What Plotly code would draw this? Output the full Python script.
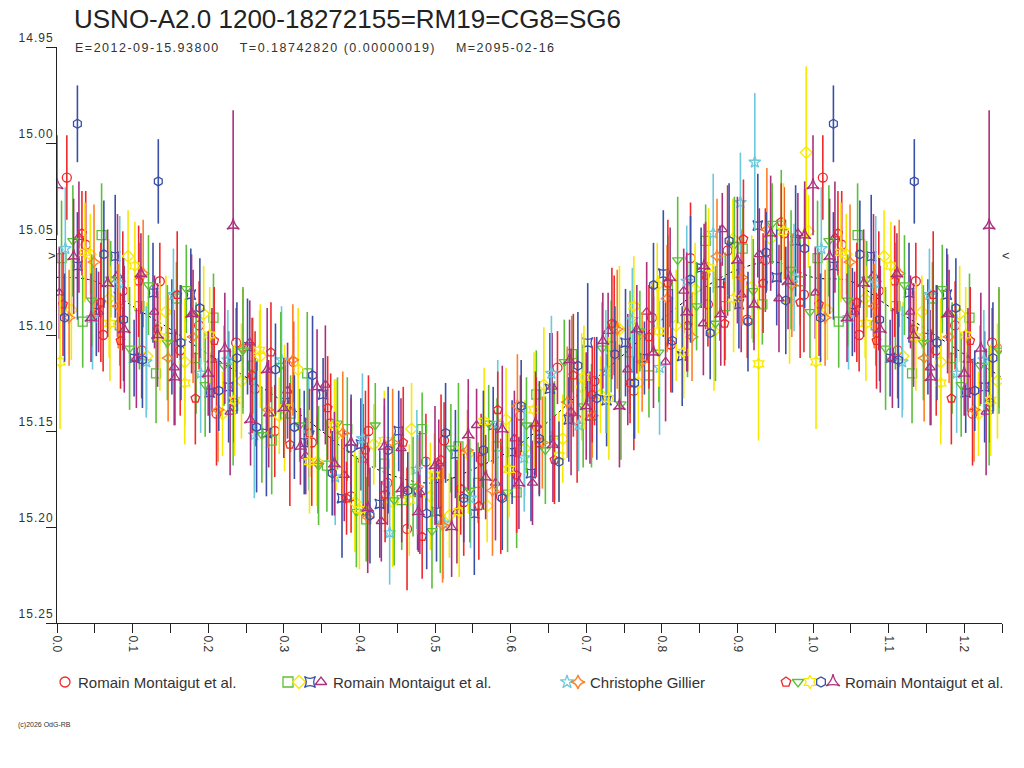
import numpy as np
import plotly.graph_objects as go

W, H = 1024, 768

# --- Romain Montaigut et al. (set 1)
rm1_ph = [0.013, 0.038, 0.061, 0.087, 0.112, 0.136, 0.163, 0.188, 0.211, 0.237, 0.262, 0.288, 0.313, 0.337, 0.362, 0.389, 0.412, 0.437, 0.463, 0.488,
          0.512, 0.538, 0.561, 0.587, 0.613, 0.638, 0.662, 0.688, 0.711, 0.737, 0.763, 0.787, 0.812, 0.838, 0.861, 0.887, 0.913, 0.937, 0.962, 0.988]
rm1_mag = [15.018, 15.053, 15.100, 15.077, 15.108, 15.072, 15.108, 15.095, 15.141, 15.104, 15.128, 15.150, 15.114, 15.156, 15.146, 15.184, 15.150, 15.177, 15.201, 15.166,
           15.155, 15.187, 15.165, 15.184, 15.142, 15.156, 15.117, 15.144, 15.124, 15.095, 15.129, 15.091, 15.105, 15.060, 15.084, 15.056, 15.092, 15.061, 15.047, 15.079]
rm1_err = [0.022, 0.028, 0.019, 0.031, 0.025, 0.020, 0.034, 0.023, 0.027, 0.018, 0.030, 0.024, 0.021, 0.033, 0.026, 0.019, 0.029, 0.022, 0.032, 0.025,
           0.020, 0.028, 0.024, 0.030, 0.021, 0.027, 0.019, 0.033, 0.023, 0.026, 0.031, 0.018, 0.025, 0.029, 0.022, 0.034, 0.020, 0.027, 0.024, 0.030]

# --- Romain Montaigut et al. (set 2, four series)
rm2a_ph = [0.006, 0.034, 0.059, 0.083, 0.109, 0.131, 0.158, 0.184, 0.207, 0.233, 0.259, 0.284, 0.309, 0.331, 0.357, 0.384, 0.409, 0.433, 0.456, 0.483,
           0.507, 0.531, 0.557, 0.582, 0.608, 0.634, 0.658, 0.681, 0.707, 0.733, 0.758, 0.783, 0.808, 0.834, 0.858, 0.884, 0.907, 0.933, 0.958, 0.983]
rm2a_mag = [15.060, 15.093, 15.048, 15.095, 15.085, 15.120, 15.081, 15.112, 15.091, 15.137, 15.116, 15.155, 15.141, 15.120, 15.168, 15.149, 15.196, 15.167, 15.186, 15.149,
            15.196, 15.158, 15.177, 15.158, 15.182, 15.131, 15.155, 15.110, 15.142, 15.106, 15.109, 15.121, 15.074, 15.092, 15.051, 15.085, 15.055, 15.084, 15.043, 15.072]
rm2a_err = [0.030, 0.024, 0.027, 0.021, 0.033, 0.026, 0.019, 0.029, 0.023, 0.031, 0.025, 0.028, 0.020, 0.032, 0.024, 0.027, 0.022, 0.030, 0.026, 0.019,
            0.028, 0.033, 0.021, 0.025, 0.029, 0.023, 0.031, 0.020, 0.027, 0.024, 0.032, 0.022, 0.026, 0.030, 0.019, 0.028, 0.025, 0.021, 0.029, 0.023]

rm2b_ph = [0.019, 0.044, 0.069, 0.094, 0.119, 0.144, 0.169, 0.194, 0.219, 0.244, 0.269, 0.294, 0.319, 0.344, 0.369, 0.394, 0.419, 0.444, 0.469, 0.494,
           0.519, 0.544, 0.569, 0.594, 0.619, 0.644, 0.669, 0.694, 0.719, 0.744, 0.769, 0.794, 0.819, 0.844, 0.869, 0.894, 0.919, 0.944, 0.969, 0.994, 0.991]
rm2b_mag = [15.087, 15.058, 15.081, 15.059, 15.111, 15.088, 15.114, 15.089, 15.141, 15.124, 15.111, 15.142, 15.118, 15.166, 15.152, 15.187, 15.157, 15.187, 15.149, 15.184,
            15.194, 15.162, 15.189, 15.144, 15.159, 15.126, 15.154, 15.127, 15.131, 15.097, 15.125, 15.074, 15.095, 15.076, 15.098, 15.050, 15.075, 15.050, 15.083, 15.046, 15.005]
rm2b_err = [0.026, 0.021, 0.031, 0.024, 0.028, 0.019, 0.033, 0.025, 0.022, 0.030, 0.027, 0.020, 0.032, 0.023, 0.029, 0.026, 0.021, 0.034, 0.024, 0.028,
            0.022, 0.031, 0.019, 0.027, 0.025, 0.030, 0.023, 0.028, 0.020, 0.033, 0.026, 0.022, 0.029, 0.024, 0.031, 0.021, 0.027, 0.025, 0.032, 0.019, 0.045]

rm2c_ph = [0.027, 0.052, 0.077, 0.102, 0.127, 0.152, 0.177, 0.202, 0.227, 0.252, 0.277, 0.302, 0.327, 0.352, 0.377, 0.402, 0.427, 0.452, 0.477, 0.502,
           0.527, 0.552, 0.577, 0.602, 0.627, 0.652, 0.677, 0.702, 0.727, 0.752, 0.777, 0.802, 0.827, 0.852, 0.877, 0.902, 0.927, 0.952, 0.977]
rm2c_mag = [15.064, 15.088, 15.059, 15.112, 15.078, 15.101, 15.079, 15.130, 15.127, 15.106, 15.151, 15.135, 15.156, 15.131, 15.185, 15.157, 15.188, 15.150, 15.182, 15.192,
            15.162, 15.193, 15.147, 15.161, 15.172, 15.128, 15.144, 15.104, 15.134, 15.104, 15.112, 15.068, 15.111, 15.065, 15.073, 15.084, 15.043, 15.070, 15.051]
rm2c_err = [0.028, 0.023, 0.032, 0.020, 0.026, 0.030, 0.024, 0.021, 0.029, 0.025, 0.033, 0.022, 0.027, 0.019, 0.031, 0.024, 0.028, 0.021, 0.030, 0.026,
            0.023, 0.032, 0.020, 0.027, 0.025, 0.029, 0.022, 0.031, 0.024, 0.028, 0.019, 0.033, 0.026, 0.021, 0.030, 0.023, 0.027, 0.025, 0.029]

rm2d_ph = [0.003, 0.029, 0.055, 0.080, 0.105, 0.129, 0.155, 0.180, 0.205, 0.229, 0.255, 0.280, 0.305, 0.329, 0.355, 0.380, 0.405, 0.429, 0.455, 0.480,
           0.505, 0.529, 0.555, 0.580, 0.605, 0.629, 0.655, 0.680, 0.705, 0.729, 0.755, 0.780, 0.805, 0.829, 0.855, 0.880, 0.905, 0.929, 0.955, 0.980]
rm2d_mag = [15.078, 15.049, 15.088, 15.069, 15.112, 15.088, 15.117, 15.089, 15.113, 15.140, 15.104, 15.141, 15.129, 15.163, 15.126, 15.173, 15.165, 15.197, 15.159, 15.182,
            15.167, 15.192, 15.147, 15.177, 15.154, 15.177, 15.127, 15.140, 15.143, 15.098, 15.118, 15.088, 15.114, 15.077, 15.094, 15.045, 15.079, 15.058, 15.081, 15.047]
rm2d_err = [0.024, 0.029, 0.021, 0.032, 0.026, 0.019, 0.030, 0.023, 0.027, 0.033, 0.022, 0.028, 0.025, 0.020, 0.031, 0.024, 0.029, 0.021, 0.026, 0.032,
            0.023, 0.027, 0.019, 0.030, 0.025, 0.022, 0.028, 0.033, 0.024, 0.020, 0.029, 0.026, 0.031, 0.022, 0.027, 0.019, 0.030, 0.024, 0.028, 0.021]

# --- Christophe Gillier (two series)
cg_a_ph = [0.011, 0.047, 0.083, 0.118, 0.154, 0.190, 0.226, 0.261, 0.297, 0.333, 0.368, 0.404, 0.440, 0.476, 0.511, 0.547, 0.583, 0.618, 0.654, 0.690,
           0.726, 0.761, 0.797, 0.833, 0.868, 0.904, 0.923, 0.975]
cg_a_mag = [15.055, 15.091, 15.073, 15.114, 15.079, 15.120, 15.113, 15.152, 15.113, 15.151, 15.174, 15.154, 15.203, 15.170, 15.198, 15.185, 15.146, 15.164, 15.120, 15.147,
            15.119, 15.092, 15.117, 15.072, 15.047, 15.031, 15.010, 15.070]
cg_a_err = [0.032, 0.027, 0.035, 0.029, 0.024, 0.031, 0.026, 0.033, 0.028, 0.030, 0.025, 0.034, 0.027, 0.031, 0.029, 0.026, 0.033, 0.028, 0.030, 0.024,
            0.032, 0.027, 0.035, 0.029, 0.031, 0.026, 0.036, 0.028]

cg_b_ph = [0.016, 0.049, 0.081, 0.114, 0.147, 0.180, 0.213, 0.246, 0.279, 0.312, 0.345, 0.378, 0.411, 0.444, 0.477, 0.510, 0.543, 0.576, 0.609, 0.642,
           0.675, 0.708, 0.741, 0.774, 0.807, 0.840, 0.873, 0.906, 0.939, 0.972]
cg_b_mag = [15.091, 15.062, 15.085, 15.068, 15.112, 15.101, 15.139, 15.107, 15.139, 15.113, 15.167, 15.151, 15.195, 15.156, 15.179, 15.199, 15.160, 15.181, 15.137, 15.156,
            15.135, 15.142, 15.097, 15.114, 15.081, 15.101, 15.059, 15.070, 15.045, 15.074]
cg_b_err = [0.025, 0.030, 0.022, 0.028, 0.033, 0.024, 0.027, 0.031, 0.020, 0.029, 0.026, 0.032, 0.023, 0.028, 0.025, 0.030, 0.021, 0.034, 0.027, 0.024,
            0.029, 0.022, 0.031, 0.026, 0.028, 0.023, 0.030, 0.025, 0.032, 0.027]

# --- Romain Montaigut et al. (set 3, five series)
rm3a_ph = [0.008, 0.033, 0.058, 0.084, 0.108, 0.133, 0.159, 0.183, 0.208, 0.234, 0.258, 0.283, 0.308, 0.334, 0.358, 0.383, 0.408, 0.434, 0.458, 0.483,
           0.508, 0.534, 0.558, 0.583, 0.608, 0.634, 0.658, 0.683, 0.708, 0.734, 0.758, 0.783, 0.808, 0.834, 0.858, 0.883, 0.908, 0.934, 0.958, 0.983]
rm3a_mag = [15.084, 15.047, 15.083, 15.103, 15.072, 15.097, 15.079, 15.133, 15.103, 15.135, 15.121, 15.109, 15.157, 15.151, 15.138, 15.185, 15.160, 15.183, 15.156, 15.205,
            15.165, 15.180, 15.189, 15.139, 15.173, 15.148, 15.165, 15.121, 15.131, 15.094, 15.125, 15.101, 15.073, 15.095, 15.069, 15.094, 15.050, 15.073, 15.041, 15.083]
rm3a_err = [0.027, 0.022, 0.031, 0.025, 0.029, 0.020, 0.033, 0.024, 0.028, 0.021, 0.030, 0.026, 0.032, 0.023, 0.027, 0.019, 0.031, 0.025, 0.029, 0.022,
            0.034, 0.024, 0.028, 0.020, 0.030, 0.026, 0.023, 0.032, 0.025, 0.029, 0.021, 0.027, 0.033, 0.024, 0.028, 0.022, 0.031, 0.026, 0.020, 0.029]

rm3b_ph = [0.021, 0.046, 0.071, 0.096, 0.121, 0.146, 0.171, 0.196, 0.221, 0.246, 0.271, 0.296, 0.321, 0.346, 0.371, 0.396, 0.421, 0.446, 0.471, 0.496,
           0.521, 0.546, 0.571, 0.596, 0.621, 0.646, 0.671, 0.696, 0.721, 0.746, 0.771, 0.796, 0.821, 0.846, 0.871, 0.896, 0.921, 0.946, 0.971, 0.996]
rm3b_mag = [15.051, 15.082, 15.071, 15.107, 15.074, 15.104, 15.076, 15.126, 15.116, 15.108, 15.152, 15.116, 15.147, 15.168, 15.146, 15.192, 15.147, 15.186, 15.179, 15.202,
            15.159, 15.181, 15.146, 15.182, 15.147, 15.160, 15.114, 15.137, 15.107, 15.136, 15.098, 15.109, 15.061, 15.085, 15.094, 15.053, 15.077, 15.042, 15.066, 15.088]
rm3b_err = [0.029, 0.024, 0.020, 0.032, 0.026, 0.030, 0.023, 0.027, 0.021, 0.033, 0.025, 0.028, 0.019, 0.031, 0.024, 0.029, 0.022, 0.034, 0.026, 0.030,
            0.023, 0.027, 0.020, 0.031, 0.025, 0.028, 0.022, 0.032, 0.024, 0.029, 0.021, 0.026, 0.033, 0.023, 0.030, 0.025, 0.027, 0.021, 0.031, 0.024]

rm3c_ph = [0.004, 0.037, 0.070, 0.103, 0.136, 0.169, 0.202, 0.235, 0.268, 0.301, 0.334, 0.367, 0.400, 0.433, 0.466, 0.499, 0.532, 0.565, 0.598, 0.631,
           0.664, 0.697, 0.730, 0.763, 0.796, 0.829, 0.862, 0.895, 0.928, 0.961]
rm3c_mag = [15.114, 15.057, 15.094, 15.064, 15.101, 15.125, 15.100, 15.134, 15.108, 15.138, 15.166, 15.147, 15.191, 15.155, 15.186, 15.173, 15.192, 15.145, 15.170, 15.139,
            15.163, 15.122, 15.133, 15.085, 15.098, 15.109, 15.065, 15.081, 15.115, 15.046]
rm3c_err = [0.035, 0.026, 0.030, 0.023, 0.028, 0.032, 0.025, 0.029, 0.021, 0.033, 0.027, 0.024, 0.031, 0.026, 0.029, 0.022, 0.034, 0.028, 0.025, 0.030,
            0.023, 0.027, 0.032, 0.026, 0.029, 0.024, 0.031, 0.028, 0.040, 0.025]

rm3d_ph = [0.010, 0.027, 0.062, 0.088, 0.113, 0.134, 0.164, 0.189, 0.214, 0.238, 0.264, 0.289, 0.314, 0.338, 0.364, 0.389, 0.414, 0.438, 0.464, 0.489,
           0.514, 0.538, 0.564, 0.589, 0.614, 0.638, 0.664, 0.689, 0.714, 0.738, 0.764, 0.789, 0.814, 0.838, 0.864, 0.889, 0.914, 0.938, 0.964, 0.989]
rm3d_mag = [15.091, 14.990, 15.058, 15.092, 15.113, 15.020, 15.104, 15.086, 15.129, 15.112, 15.148, 15.118, 15.148, 15.121, 15.172, 15.159, 15.194, 15.160, 15.181, 15.193,
            15.151, 15.185, 15.160, 15.185, 15.137, 15.154, 15.166, 15.116, 15.133, 15.110, 15.125, 15.074, 15.103, 15.071, 15.099, 15.051, 15.093, 15.057, 15.082, 15.055]
rm3d_err = [0.023, 0.020, 0.028, 0.032, 0.025, 0.022, 0.030, 0.026, 0.021, 0.029, 0.034, 0.024, 0.027, 0.031, 0.022, 0.028, 0.025, 0.033, 0.020, 0.029,
            0.026, 0.023, 0.031, 0.027, 0.024, 0.030, 0.021, 0.028, 0.032, 0.025, 0.029, 0.022, 0.027, 0.033, 0.024, 0.030, 0.026, 0.021, 0.028, 0.031]

rm3e_ph = [0.000, 0.022, 0.045, 0.067, 0.089, 0.111, 0.133, 0.156, 0.178, 0.200, 0.222, 0.233, 0.256, 0.278, 0.300, 0.322, 0.344, 0.367, 0.389, 0.411,
           0.433, 0.456, 0.478, 0.500, 0.522, 0.544, 0.567, 0.589, 0.611, 0.633, 0.656, 0.678, 0.700, 0.722, 0.744, 0.767, 0.789, 0.811, 0.833, 0.856,
           0.878, 0.900, 0.922, 0.944, 0.967, 0.989]
rm3e_mag = [15.022, 15.059, 15.091, 15.073, 15.097, 15.068, 15.100, 15.122, 15.089, 15.120, 15.107, 15.043, 15.144, 15.118, 15.138, 15.158, 15.127, 15.167, 15.156, 15.190,
            15.158, 15.180, 15.192, 15.168, 15.200, 15.152, 15.174, 15.149, 15.177, 15.146, 15.157, 15.113, 15.137, 15.103, 15.137, 15.097, 15.109, 15.070, 15.088, 15.064,
            15.089, 15.061, 15.084, 15.047, 15.072, 15.048]
rm3e_err = [0.026, 0.030, 0.023, 0.028, 0.033, 0.021, 0.027, 0.025, 0.031, 0.022, 0.029, 0.060, 0.024, 0.032, 0.026, 0.020, 0.030, 0.027, 0.023, 0.034,
            0.025, 0.028, 0.021, 0.031, 0.026, 0.029, 0.022, 0.033, 0.024, 0.027, 0.030, 0.021, 0.028, 0.025, 0.032, 0.023, 0.029, 0.026, 0.031, 0.022,
            0.027, 0.033, 0.024, 0.030, 0.025, 0.028]

# mean light curve (dotted)
fit_ph = [0.00, 0.05, 0.10, 0.15, 0.20, 0.25, 0.30, 0.35, 0.40, 0.45, 0.50, 0.55, 0.60, 0.65, 0.70, 0.75, 0.80, 0.85, 0.90, 0.95,
          1.00, 1.05, 1.10, 1.15, 1.20, 1.25]
fit_mag = [15.070, 15.072, 15.085, 15.097, 15.110, 15.122, 15.135, 15.150, 15.165, 15.174, 15.177, 15.170, 15.160, 15.145, 15.127, 15.110, 15.092, 15.077, 15.066, 15.062,
           15.070, 15.072, 15.085, 15.097, 15.110, 15.122]

x_ticks = [0.0, 0.1, 0.2, 0.3, 0.4, 0.5, 0.6, 0.7, 0.8, 0.9, 1.0, 1.1, 1.2]
y_ticks = [14.95, 15.00, 15.05, 15.10, 15.15, 15.20, 15.25]

RED, GREEN, YELLOW, BLUE, PURPLE = '#f0282a', '#5cbf3a', '#f7e800', '#3a4fa8', '#ac2f7e'
CYAN, ORANGE = '#6cc8dc', '#ff7f27'

series = [
    (rm1_ph, rm1_mag, rm1_err, RED, 'circle-open'),
    (rm2a_ph, rm2a_mag, rm2a_err, GREEN, 'square-open'),
    (rm2b_ph, rm2b_mag, rm2b_err, YELLOW, 'diamond-open'),
    (rm2c_ph, rm2c_mag, rm2c_err, BLUE, 'star-square-open'),
    (rm2d_ph, rm2d_mag, rm2d_err, PURPLE, 'triangle-up-open'),
    (cg_a_ph, cg_a_mag, cg_a_err, CYAN, 'star-open'),
    (cg_b_ph, cg_b_mag, cg_b_err, ORANGE, 'star-diamond-open'),
    (rm3a_ph, rm3a_mag, rm3a_err, RED, 'pentagon-open'),
    (rm3b_ph, rm3b_mag, rm3b_err, GREEN, 'triangle-down-open'),
    (rm3c_ph, rm3c_mag, rm3c_err, YELLOW, 'hexagram-open'),
    (rm3d_ph, rm3d_mag, rm3d_err, BLUE, 'hexagon-open'),
    (rm3e_ph, rm3e_mag, rm3e_err, PURPLE, 'star-triangle-up-open'),
]


def px(x, y):
    # pixel position -> paper coordinates
    return x / W, 1 - y / H


def spaced(s, sp):
    return '<span style="letter-spacing:%spx">%s</span>' % (sp, s)


fig = go.Figure()
fig.add_trace(go.Scatter(x=fit_ph, y=fit_mag, mode='lines',
                         line=dict(color='black', width=1, dash='dot', shape='spline'),
                         hoverinfo='skip'))

for ph, mag, err, col, sym in series:
    ph = np.array(ph); mag = np.array(mag); err = np.array(err)
    rep = ph < 0.25  # phase plotted up to 1.25
    x = np.concatenate([ph, ph[rep] + 1])
    y = np.concatenate([mag, mag[rep]])
    e = np.concatenate([err, err[rep]])
    fig.add_trace(go.Scatter(x=x, y=y, mode='markers',
                             marker=dict(symbol=sym, size=9, color=col, line=dict(width=1.3, color=col)),
                             error_y=dict(type='data', array=e, color=col, thickness=1.6, width=0)))

# legend drawn in pixel space
leg_x = [65, 288, 299, 310, 321, 567, 578, 786, 798, 810, 821, 833]
leg_col = [s[3] for s in series]
leg_sym = [s[4] for s in series]
fig.add_trace(go.Scatter(x=leg_x, y=[682] * len(leg_x), mode='markers', xaxis='x2', yaxis='y2',
                         marker=dict(symbol=leg_sym, size=10, color=leg_col, line=dict(width=1.3, color=leg_col)),
                         hoverinfo='skip'))

ann = []
for text, x0 in [('Romain Montaigut et al.', 76), ('Romain Montaigut et al.', 331),
                 ('Christophe Gillier', 588), ('Romain Montaigut et al.', 843)]:
    xx, yy = px(x0, 682)
    ann.append(dict(text=text, x=xx, y=yy, xref='paper', yref='paper', xanchor='left', yanchor='middle',
                    showarrow=False, font=dict(size=15, color='#333')))
xx, yy = px(72, 19)
ann.append(dict(text='USNO-A2.0 1200-18272155=RM19=CG8=SG6', x=xx, y=yy, xref='paper', yref='paper',
                xanchor='left', yanchor='middle', showarrow=False, font=dict(size=26, color='#222')))
xx, yy = px(73, 48)
ann.append(dict(text=spaced('E=2012-09-15.93800&nbsp;&nbsp;&nbsp;&nbsp;T=0.18742820 (0.00000019)&nbsp;&nbsp;&nbsp;&nbsp;M=2095-02-16', 1.5),
                x=xx, y=yy, xref='paper', yref='paper', xanchor='left', yanchor='middle',
                showarrow=False, font=dict(size=12.5, color='#333')))
xx, yy = px(16, 725)
ann.append(dict(text='(c)2026 OdG-RB', x=xx, y=yy, xref='paper', yref='paper', xanchor='left', yanchor='middle',
                showarrow=False, font=dict(size=7, color='#333')))
for sym, x0 in [('>', 52), ('<', 1006)]:
    xx, yy = px(x0, 255)
    ann.append(dict(text=sym, x=xx, y=yy, xref='paper', yref='paper', xanchor='center', yanchor='middle',
                    showarrow=False, font=dict(size=13, color='#333')))

fig.update_layout(
    width=W, height=H,
    margin=dict(l=0, r=0, t=0, b=0, autoexpand=False),
    paper_bgcolor='white', plot_bgcolor='rgba(0,0,0,0)',
    showlegend=False,
    font=dict(family='Arial, Liberation Sans, sans-serif', color='#333'),
    xaxis=dict(domain=[57 / W, 1002 / W], range=[0, 1.25], tickvals=x_ticks, automargin=False,
               ticktext=['%.1f' % v for v in x_ticks], tickangle=90,
               ticks='outside', ticklen=9, tickcolor='#222', showline=True, linecolor='#222', linewidth=1,
               showgrid=False, zeroline=False, tickfont=dict(size=12, color='#333'),
               minor=dict(dtick=0.05, tick0=0, ticks='outside', ticklen=9, tickcolor='#222')),
    yaxis=dict(domain=[1 - 623 / H, 1 - 47 / H], range=[15.25, 14.95], tickvals=y_ticks, automargin=False,
               ticktext=[spaced('%.2f' % v, 1) for v in y_ticks], ticks='outside', ticklen=10, tickcolor='#222',
               ticklabelposition='outside top', showline=True, linecolor='#222', linewidth=1,
               showgrid=False, zeroline=False, tickfont=dict(size=12, color='#333')),
    xaxis2=dict(domain=[0, 1], range=[0, W], visible=False, anchor='y2', fixedrange=True, automargin=False),
    yaxis2=dict(domain=[0, 1], range=[H, 0], visible=False, anchor='x2', fixedrange=True, automargin=False),
    annotations=ann,
)

fig.write_html("out.html", config={'displayModeBar': False},
               post_script="document.body.style.margin='0';document.body.style.overflow='hidden';")
